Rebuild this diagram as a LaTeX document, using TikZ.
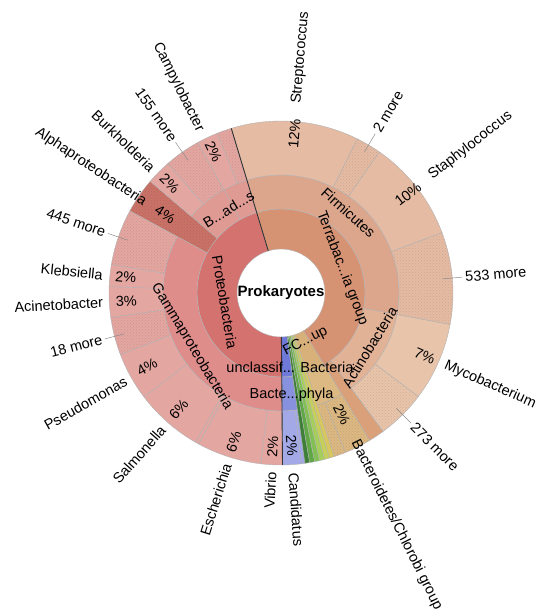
\documentclass[tikz,border=0pt]{standalone}
\usepackage{fontspec}
\setmainfont{Liberation Sans}
\usetikzlibrary{patterns}

\definecolor{proA}{HTML}{D47270}
\definecolor{proB}{HTML}{DE8D8B}
\definecolor{proC}{HTML}{E4A6A1}
\definecolor{proD}{HTML}{DF9A93}
\definecolor{alph}{HTML}{CA7267}
\definecolor{terA}{HTML}{D69373}
\definecolor{terB}{HTML}{DCA68D}
\definecolor{terC}{HTML}{E5BBA3}
\definecolor{actB}{HTML}{E2B296}
\definecolor{actC}{HTML}{E8C4AA}
\definecolor{orng}{HTML}{D9A07A}
\definecolor{fcbA}{HTML}{D8B07A}
\definecolor{fcbB}{HTML}{DCB882}
\definecolor{bluA}{HTML}{6F79D8}
\definecolor{bluB}{HTML}{8891DE}
\definecolor{bluC}{HTML}{A2A9E6}
\definecolor{grA}{HTML}{3F7F3A}
\definecolor{grB}{HTML}{5FA845}
\definecolor{grC}{HTML}{82C055}
\definecolor{grD}{HTML}{A5CF5A}
\definecolor{grE}{HTML}{C6CF5A}
\definecolor{grF}{HTML}{D8C65E}

% one ring piece: style, start angle, end angle, inner radius, outer radius
\newcommand{\kslice}[5]{%
  \path[#1] (#2:#4) arc[start angle=#2, end angle=#3, radius=#4]
    -- (#3:#5) arc[start angle=#3, end angle=#2, radius=#5] -- cycle;}

\begin{document}
\begin{tikzpicture}[
    x=1pt, y=1pt,
    font=\fontsize{14.5}{16}\selectfont,
    wedge/.style={draw=black!30, line width=0.4pt},
    more/.style={wedge, postaction={pattern=crosshatch dots, pattern color=black, fill opacity=0.1}},
    cut/.style={draw=black!80, line width=0.9pt},
    lab/.style={inner sep=0pt},
    far/.style={inner sep=0pt, outer sep=3pt},
    lead/.style={draw=black!45, line width=0.5pt},
  ]
  \useasboundingbox (0,0) rectangle (539,-616);
  \begin{scope}[shift={(281,-293)}]
    % ring 1
    \kslice{wedge, fill=proA}{106.8}{270.5}{44}{84}
    \kslice{wedge, fill=bluA}{270.5}{278}{44}{84}
    \kslice{wedge, fill=fcbA}{288}{301}{44}{84}
    \kslice{wedge, fill=terA}{-59}{106.8}{44}{84}

    % ring 2
    \kslice{wedge, fill=proD}{106.8}{119}{84}{118}
    \kslice{wedge, fill=proD}{119}{139.5}{84}{118}
    \kslice{more, fill=alph}{139.5}{151.5}{84}{172}
    \kslice{wedge, fill=proB}{151.5}{270.5}{84}{118}
    \kslice{wedge, fill=bluB}{270.5}{278}{84}{118}
    \kslice{wedge, fill=fcbB}{288}{301}{84}{118}
    \kslice{wedge, fill=orng}{301}{306.4}{84}{172}
    \kslice{wedge, fill=actB}{306.4}{349.5}{84}{118}
    \kslice{wedge, fill=terB}{-10.5}{106.8}{84}{118}

    % ring 3
    \kslice{more, fill=proC}{106.8}{111.8}{118}{172}
    \kslice{wedge, fill=proC}{111.8}{119}{118}{172}
    \kslice{more, fill=proC}{119}{131.2}{118}{172}
    \kslice{wedge, fill=proC}{131.2}{139.5}{118}{172}
    \kslice{more, fill=proC}{151.5}{170.5}{118}{172}
    \kslice{wedge, fill=proC}{170.5}{177.9}{118}{172}
    \kslice{wedge, fill=proC}{177.9}{188.2}{118}{172}
    \kslice{more, fill=proC}{188.2}{201}{118}{172}
    \kslice{wedge, fill=proC}{201}{217.2}{118}{172}
    \kslice{wedge, fill=proC}{217.2}{240.2}{118}{172}
    \kslice{wedge, fill=proC}{240.2}{241.4}{118}{172}
    \kslice{wedge, fill=proC}{241.4}{263.3}{118}{172}
    \kslice{wedge, fill=proC}{263.3}{270.5}{118}{172}
    \kslice{wedge, fill=bluC}{270.5}{276.8}{118}{172}
    \kslice{wedge, fill=bluC}{276.8}{278}{118}{172}
    \kslice{more, fill=fcbB}{288}{292}{118}{172}
    \kslice{more, fill=fcbB}{292}{301}{118}{172}
    \kslice{more, fill=actC}{306.4}{323}{118}{172}
    \kslice{wedge, fill=actC}{323}{349.5}{118}{172}
    \kslice{more, fill=terC}{-10.5}{20.6}{118}{172}
    \kslice{wedge, fill=terC}{20.6}{55.1}{118}{172}
    \kslice{more, fill=terC}{55.1}{63.7}{118}{172}
    \kslice{wedge, fill=terC}{63.7}{106.8}{118}{172}

    % thin phyla running through all rings
    \foreach \a/\b/\c in {278/279.6/grA, 279.6/281.3/grB, 281.3/283/grC,
                          283/284.7/grD, 284.7/286.4/grE, 286.4/288/grF}
      {\kslice{wedge, fill=\c}{\a}{\b}{44}{172}}

    \draw[cut] (106.8:44) -- (106.8:172);
    \draw[cut] (270.5:44) -- (270.5:172);

    % inner labels
    \node[lab, font=\fontsize{15}{16}\selectfont\bfseries] (root) at (0,0) {Prokaryotes};
    \node[lab, rotate=-80.5] (prot) at (189.5:57) {Proteobacteria};
    \node[lab, rotate=-69] (terra) at (22:66) {Terrabac...ia group};
    \node[lab, rotate=-42] (firm) at (50:105) {Firmicutes};
    \node[lab, rotate=27] (fcb) at (297:54) {FC...up};
    \node[lab, rotate=-59] (gamma) at (211:104) {Gammaproteobacteria};
    \node[lab, rotate=32] (beta) at (122:99) {B...ad...s};
    \node[lab, rotate=58.5] (actino) at (-31.5:104) {Actinobacteria};
    \node[lab] (uncl) at (9,-74) {unclassif... Bacteria};
    \node[lab] (candp) at (10.5,-102) {Bacte...phyla};

    % percentages
    \node[lab, rotate=-64.5] (pCampy) at (115.5:157) {2\%};
    \node[lab, rotate=-44.5] (pBurk) at (135.5:156) {2\%};
    \node[lab, rotate=-34.2] (pAlpha) at (145.8:140) {4\%};
    \node[lab, rotate=-5.8] (pKleb) at (174.2:156) {2\%};
    \node[lab, rotate=3] (pAcin) at (183:155) {3\%};
    \node[lab, rotate=29] (pPseu) at (209:153) {4\%};
    \node[lab, rotate=48.7] (pSalm) at (228.7:155) {6\%};
    \node[lab, rotate=72.4] (pEsch) at (252.4:156) {6\%};
    \node[lab, rotate=86.9] (pVibr) at (266.9:154) {2\%};
    \node[lab, rotate=-86] (pCand) at (274:153) {2\%};
    \node[lab, rotate=-63.5] (pBact) at (296.5:136) {2\%};
    \node[lab, rotate=-23.7] (pMyco) at (-23.7:157) {7\%};
    \node[lab, rotate=37.9] (pStap) at (37.9:161) {10\%};
    \node[lab, rotate=85.2] (pStre) at (85.2:160) {12\%};

    % outer labels, left half
    \node[lab, anchor=east, rotate=-63.5] (lCampy) at (116.5:181) {Campylobacter};
    \node[far, anchor=east, rotate=-55] (l155) at (125:184) {155 more};
    \node[lab, anchor=east, rotate=-44] (lBurk) at (136:178) {Burkholderia};
    \node[lab, anchor=east, rotate=-33.5] (lAlpha) at (146.5:163) {Alphaproteobacteria};
    \node[far, anchor=east, rotate=-19] (l445) at (161:183) {445 more};
    \node[lab, anchor=east, rotate=-5.8] (lKleb) at (174.2:179) {Klebsiella};
    \node[lab, anchor=east, rotate=3] (lAcin) at (183:178) {Acinetobacter};
    \node[far, anchor=east, rotate=14.6] (l18) at (194.6:182) {18 more};
    \node[lab, anchor=east, rotate=29.5] (lPseu) at (209.5:178) {Pseudomonas};
    \node[lab, anchor=east, rotate=48.7] (lSalm) at (228.7:179) {Salmonella};
    \node[lab, anchor=east, rotate=72.5] (lEsch) at (252.5:179) {Escherichia};
    \node[lab, anchor=east, rotate=86.9] (lVibr) at (266.9:179) {Vibrio};

    % outer labels, right half
    \node[lab, anchor=west, rotate=-86] (lCand) at (274:180) {Candidatus};
    \node[lab, anchor=west, rotate=-63.5] (lBact) at (296.5:165) {Bacteroidetes/Chlorobi group};
    \node[far, anchor=west, rotate=-45] (l273) at (-45:184) {273 more};
    \node[lab, anchor=west, rotate=-23.7] (lMyco) at (-23.7:179) {Mycobacterium};
    \node[far, anchor=west, rotate=5] (l533) at (5:182) {533 more};
    \node[lab, anchor=west, rotate=37.9] (lStap) at (37.9:189) {Staphylococcus};
    \node[far, anchor=west, rotate=59.4] (l2) at (59.4:185) {2 more};
    \node[lab, anchor=west, rotate=85.2] (lStre) at (85.2:190) {Streptococcus};

    % leaders for the collapsed groups
    \coordinate (m155) at (125:162);
    \coordinate (m445) at (161:162);
    \coordinate (m18) at (194.6:162);
    \coordinate (m273) at (-45:163);
    \coordinate (m533) at (5:162);
    \coordinate (m2) at (59.4:164);
    \draw[lead] (m155) -- (l155.east);
    \draw[lead] (m445) -- (l445.east);
    \draw[lead] (m18) -- (l18.east);
    \draw[lead] (m273) -- (l273.west);
    \draw[lead] (m533) -- (l533.west);
    \draw[lead] (m2) -- (l2.west);
  \end{scope}
\end{tikzpicture}
\end{document}
